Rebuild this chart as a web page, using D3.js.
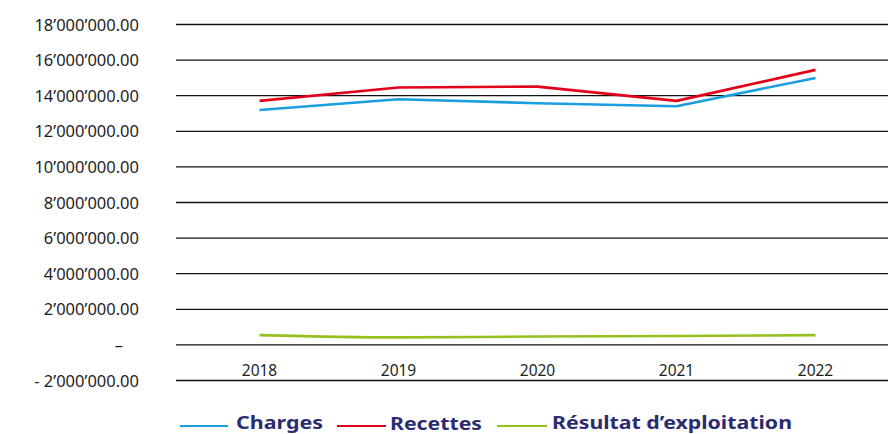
<!DOCTYPE html>
<html><head><meta charset="utf-8">
<script src="https://cdn.jsdelivr.net/npm/d3@7"></script>
<style>body{margin:0;background:#fff}svg{display:block}</style>
</head><body>
<svg id="c" width="888" height="434"></svg>
<script>
const years = ["2018","2019","2020","2021","2022"];
const charges = [13200000, 13800000, 13580000, 13410000, 15000000];
const recettes = [13710000, 14460000, 14510000, 13710000, 15450000];
const resultat = [550000, 420000, 470000, 500000, 550000];
const yTicks = [-2000000, 0, 2000000, 4000000, 6000000, 8000000, 10000000, 12000000, 14000000, 16000000, 18000000];
const yTickLabels = ["- 2’000’000.00", "–", "2’000’000.00", "4’000’000.00", "6’000’000.00", "8’000’000.00", "10’000’000.00", "12’000’000.00", "14’000’000.00", "16’000’000.00", "18’000’000.00"];
const seriesNames = ["Charges", "Recettes", "Résultat d’exploitation"];
const colors = ["#1a9ee0", "#e2001a", "#95c11f"];

const svg = d3.select("#c");
const y = d3.scaleLinear().domain([-2000000, 18000000]).range([380.5, 24.5]);
const x = d3.scalePoint().domain(years).range([190, 885]).padding(0.5);
const font = "'Noto Sans', sans-serif";

// gridlines
svg.append("g").selectAll("line").data(yTicks).join("line")
  .attr("x1", 176).attr("x2", 888)
  .attr("y1", d => y(d)).attr("y2", d => y(d))
  .attr("stroke", "#111").attr("stroke-width", 1.3);

// y labels
svg.append("g").selectAll("text").data(yTicks).join("text")
  .attr("x", (d,i) => d === 0 ? 123 : 139)
  .attr("y", d => y(d) + 6)
  .attr("text-anchor", "end")
  .attr("font-family", font).attr("font-size", 16.5).attr("fill", "#1e1e1e")
  .text((d,i) => yTickLabels[i]);

// x labels
svg.append("g").selectAll("text").data(years).join("text")
  .attr("x", d => x(d)).attr("y", 376)
  .attr("text-anchor", "middle")
  .attr("font-family", font).attr("font-size", 15.5).attr("fill", "#1e1e1e")
  .text(d => d);

const lineLin = d3.line().x((d,i) => x(years[i])).y(d => y(d));
const lineSmooth = d3.line().x((d,i) => x(years[i])).y(d => y(d)).curve(d3.curveMonotoneX);
[charges, recettes, resultat].forEach((s, i) => {
  svg.append("path").attr("d", i === 2 ? lineSmooth(s) : lineLin(s)).attr("fill", "none")
    .attr("stroke", colors[i]).attr("stroke-width", 2.6).attr("stroke-linejoin", "round");
});

// legend
const leg = [
  {x1: 180, x2: 228, tx: 236, ty: 428.5, w: 87},
  {x1: 337, x2: 386, tx: 390, ty: 430, w: 92},
  {x1: 497, x2: 547, tx: 552, ty: 428.5, w: 240}
];
leg.forEach((l, i) => {
  svg.append("line").attr("x1", l.x1).attr("x2", l.x2).attr("y1", 426).attr("y2", 426)
    .attr("stroke", colors[i]).attr("stroke-width", 2);
  svg.append("text").attr("x", l.tx).attr("y", l.ty)
    .attr("font-family", font).attr("font-size", 18.5).attr("font-weight", "bold")
    .attr("fill", "#2b2b6f")
    .attr("textLength", l.w).attr("lengthAdjust", "spacingAndGlyphs")
    .text(seriesNames[i]);
});
</script>
</body></html>
